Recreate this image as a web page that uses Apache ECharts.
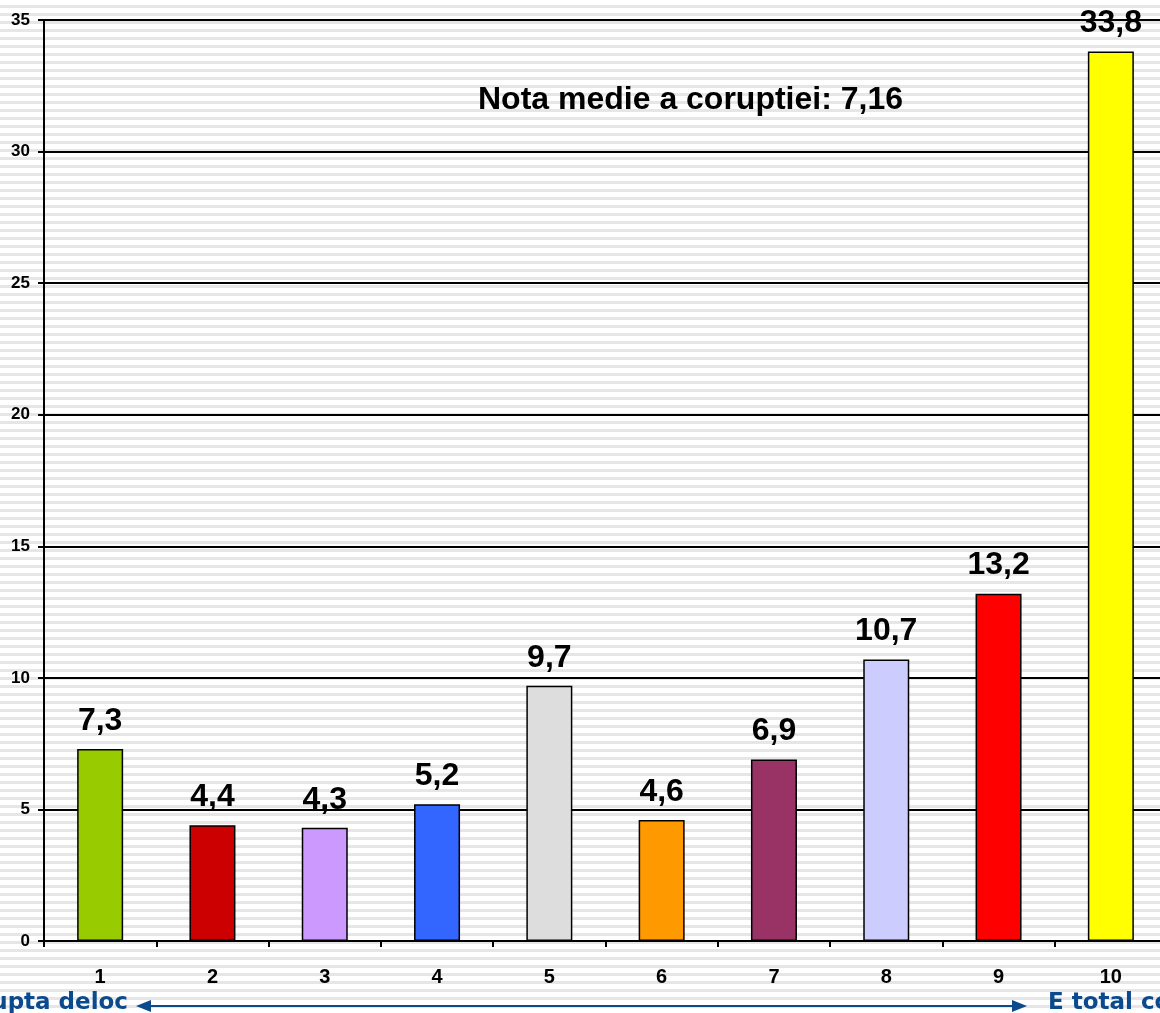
<!DOCTYPE html>
<html>
<head>
<meta charset="utf-8">
<title>Nota medie a coruptiei</title>
<script src="https://cdn.jsdelivr.net/npm/echarts@6/dist/echarts.min.js"></script>
<style>
    html, body {
        margin: 0;
        padding: 0;
        overflow: hidden;
        width: 1160px;
        height: 1013px;
        background: repeating-linear-gradient(to bottom, #ffffff 0px, #ffffff 5px, #e6e6e6 5px, #e6e6e6 8px);
    }
    #chart1 {
        width: 1167px;
        height: 1013px;
    }
</style>
</head>
<body>
<div id="chart1"></div>
<script>
// note 1..10 si procentele
var categories = ['1', '2', '3', '4', '5', '6', '7', '8', '9', '10'];
var values = [7.3, 4.4, 4.3, 5.2, 9.7, 4.6, 6.9, 10.7, 13.2, 33.8];
var barColors = ['#99cc00', '#cc0000', '#cc99ff', '#3366ff', '#dddddd',
    '#ff9900', '#993366', '#ccccff', '#ff0000', '#ffff00'];
var yTicks = [0, 5, 10, 15, 20, 25, 30, 35];
var noteText = 'Nota medie a coruptiei: 7,16';
var leftText = 'Nu e corupta deloc';
var rightText = 'E total corupta';

var chart1 = echarts.init(document.getElementById('chart1'));

var seriesData = values.map(function (v, i) {
    return {
        value: v,
        itemStyle: {color: barColors[i]}
    };
});

var arrowColor = '#0b4a8c';

var option = {
    backgroundColor: 'transparent',
    animation: false,
    grid: {
        left: 44,
        right: 0,
        top: 20,
        bottom: 72
    },
    xAxis: {
        type: 'category',
        data: categories,
        axisLine: {lineStyle: {color: '#000', width: 2}},
        axisTick: {show: true, length: 6, lineStyle: {color: '#000', width: 2}},
        axisLabel: {
            margin: 26,
            color: '#000',
            fontFamily: 'Liberation Sans, Arial',
            fontWeight: 'bold',
            fontSize: 20
        }
    },
    yAxis: {
        type: 'value',
        min: yTicks[0],
        max: yTicks[yTicks.length - 1],
        interval: 5,
        axisLine: {show: true, lineStyle: {color: '#000', width: 2}},
        axisTick: {show: true, length: 6, lineStyle: {color: '#000', width: 2}},
        splitLine: {show: true, lineStyle: {color: '#000', width: 2}},
        axisLabel: {
            margin: 14,
            color: '#000',
            fontFamily: 'Liberation Sans, Arial',
            fontWeight: 'bold',
            fontSize: 17
        }
    },
    series: [{
        type: 'bar',
        data: seriesData,
        barWidth: 46,
        itemStyle: {borderColor: '#000', borderWidth: 1.5},
        label: {
            show: true,
            position: 'top',
            distance: 12,
            color: '#000',
            fontFamily: 'Liberation Sans, Arial',
            fontWeight: 'bold',
            fontSize: 32,
            formatter: function (p) {
                return String(p.value).replace('.', ',');
            }
        }
    }],
    graphic: [{
        type: 'text',
        left: 478,
        top: 84,
        style: {
            text: noteText,
            fill: '#000',
            font: 'bold 32px "Liberation Sans", Arial'
        }
    }, {
        type: 'text',
        x: 128,
        y: 1003,
        style: {
            text: leftText,
            fill: arrowColor,
            align: 'right',
            verticalAlign: 'middle',
            font: 'bold 23px "DejaVu Sans", Verdana'
        }
    }, {
        type: 'text',
        x: 1048,
        y: 1003,
        style: {
            text: rightText,
            fill: arrowColor,
            align: 'left',
            verticalAlign: 'middle',
            font: 'bold 23px "DejaVu Sans", Verdana'
        }
    }, {
        type: 'line',
        shape: {x1: 148, y1: 1006, x2: 1014, y2: 1006},
        style: {stroke: arrowColor, lineWidth: 2}
    }, {
        type: 'polygon',
        shape: {points: [[136, 1006], [151, 1000], [151, 1012]]},
        style: {fill: arrowColor}
    }, {
        type: 'polygon',
        shape: {points: [[1027, 1006], [1012, 1000], [1012, 1012]]},
        style: {fill: arrowColor}
    }]
};
chart1.setOption(option, true);
</script>
</body>
</html>
